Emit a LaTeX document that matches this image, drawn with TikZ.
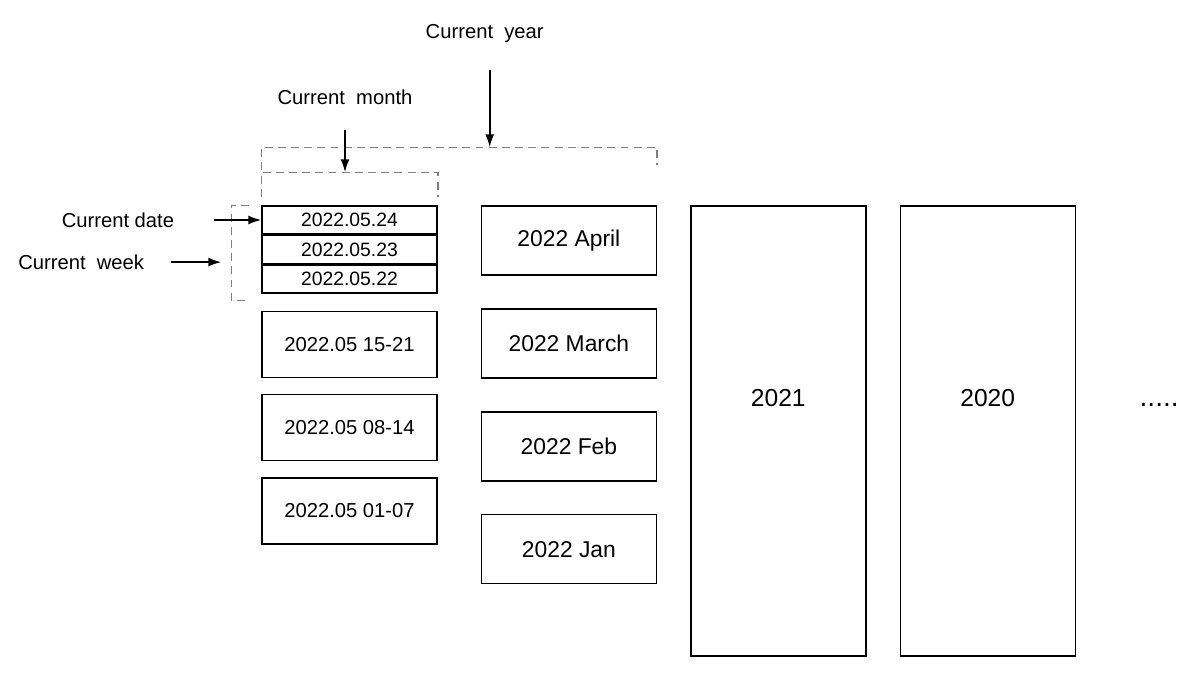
\documentclass[tikz,border=0pt]{standalone}
\usepackage{fontspec}
\setmainfont{Liberation Sans}
\usepackage{tikz}
\usepackage{xcolor}
\usetikzlibrary{arrows.meta,positioning}
\definecolor{DashGray}{HTML}{808080}

\begin{document}
\begin{tikzpicture}[
  daybox/.style={draw=black,line width=0.8pt,minimum width=3.5cm,minimum height=0.56cm,inner sep=0pt,font=\fontsize{11}{13}\selectfont},
  weekbox/.style={draw=black,line width=0.8pt,minimum width=3.5cm,minimum height=1.32cm,inner sep=0pt,font=\fontsize{11.5}{14}\selectfont},
  monthbox/.style={draw=black,line width=0.8pt,minimum width=3.5cm,minimum height=1.38cm,inner sep=0pt,font=\fontsize{13}{15}\selectfont},
  yearbox/.style={draw=black,line width=0.8pt,minimum width=3.5cm,minimum height=9cm,inner sep=0pt,text height=0.35cm,text depth=1.32cm,font=\fontsize{14}{16}\selectfont},
  lbl/.style={font=\fontsize{11.5}{14}\selectfont},
  dashbr/.style={draw=DashGray,line width=0.9pt,dash pattern=on 4.5pt off 3pt},
  arrow/.style={-{Latex[length=2.6mm,width=1.8mm]},line width=1pt,draw=black}
]
\useasboundingbox (0,0) rectangle (24,-13.6);
% days of the current week
\node[daybox] (day1) at (6.99,-4.4) {2022.05.24};
\node[daybox,below=0pt of day1] (day2) {2022.05.23};
\node[daybox,below=0pt of day2] (day3) {2022.05.22};
% weeks
\node[weekbox,below=0.34cm of day3] (wk1) {2022.05 15-21};
\node[weekbox,below=0.32cm of wk1] (wk2) {2022.05 08-14};
\node[weekbox,below=0.32cm of wk2] (wk3) {2022.05 01-07};
% months
\node[monthbox,right=0.86cm of day1.north east,anchor=north west] (apr) {2022 April};
\node[monthbox,below=0.65cm of apr] (mar) {2022 March};
\node[monthbox,below=0.65cm of mar] (feb) {2022 Feb};
\node[monthbox,below=0.65cm of feb] (jan) {2022 Jan};
% years
\node[yearbox,right=0.66cm of apr.north east,anchor=north west] (y21) {2021};
\node[yearbox,right=0.66cm of y21] (y20) {2020};
\node[right=1.15cm of y20,yshift=0.52cm,font=\fontsize{16}{18}\selectfont] (more) {.....};

% brackets
\coordinate (wb1) at ([xshift=-0.24cm]day1.north west);
\coordinate (wb2) at ([xshift=-0.24cm,yshift=-0.14cm]day3.south west);
\draw[dashbr] (wb1) -- ++(-0.36cm,0) |- (wb2);
\draw[dashbr] ([yshift=0.16cm]day1.north west) -- ++(0,0.5) -| ([yshift=0.16cm]day1.north east);
\draw[dashbr] ([yshift=0.7cm]day1.north west) -- ++(0,0.46) -| ([yshift=0.8cm]apr.north east);

% labels
\coordinate (mtop) at ([xshift=-0.09cm,yshift=0.66cm]day1.north);
\coordinate (ytop) at ([xshift=0.18cm,yshift=1.16cm]apr.north west);
\coordinate (wkin) at ([xshift=-0.8cm,yshift=0.04cm]day3.north west);
\node[lbl,left=1.62cm of day1] (ldate) {Current date};
\node[lbl,left=1.42cm of wkin] (lweek) {Current\ \ week};
\node[lbl,above=1.22cm of mtop] (lmonth) {Current\ \ month};
\node[lbl,above=1.96cm of ytop,xshift=-0.1cm] (lyear) {Current\ \ year};
\draw[arrow] ([xshift=0.68cm]ldate.east) -- (day1.west);
\draw[arrow] ([xshift=0.42cm]lweek.east) -- (wkin);
\draw[arrow] ([yshift=-0.38cm]lmonth.south) -- (mtop);
\draw[arrow] ([xshift=0.1cm,yshift=-0.42cm]lyear.south) -- (ytop);
\end{tikzpicture}
\end{document}
